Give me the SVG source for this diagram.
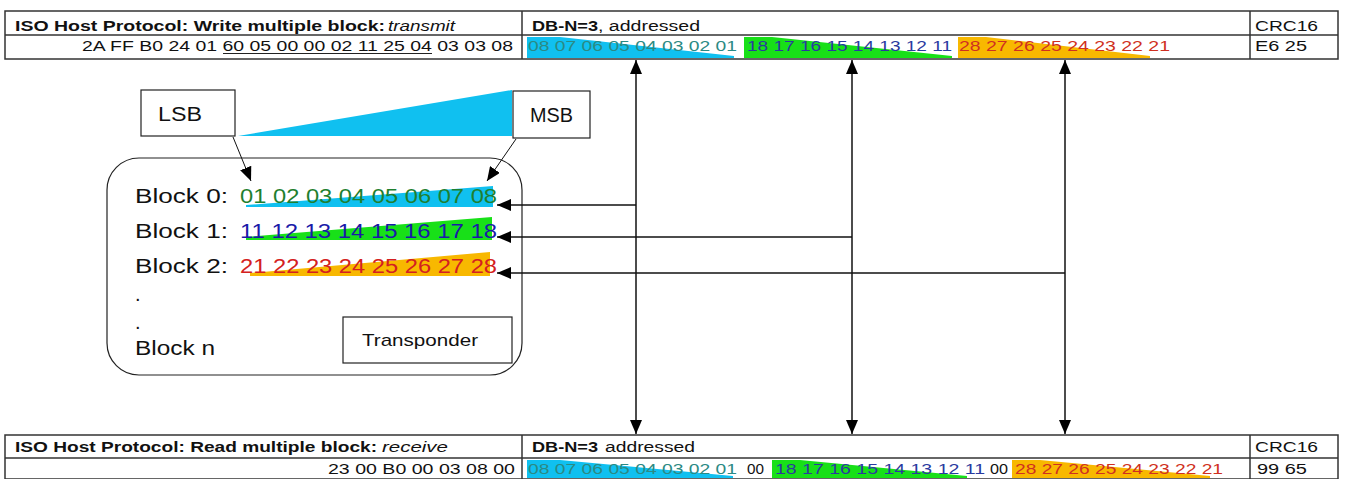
<svg xmlns="http://www.w3.org/2000/svg" width="1348" height="479" viewBox="0 0 1348 479">
<style>
text{font-family:"Liberation Sans",Arial,sans-serif}
.t{font-size:14px;fill:#111}
.b{font-weight:bold}
.i{font-style:italic}
.tab{fill:none;stroke:#333;stroke-width:1.5}
.big{font-size:20px;fill:#111}
.c0{fill:#2b8a84}
.c1{fill:#2a3aa0}
.c2{fill:#d03020}
.n0{fill:#1f7f2f}
.n1{fill:#1a1aa8}
.n2{fill:#d42020}
.cy{fill:#10c0f0}
.gr{fill:#18e018}
.or{fill:#f8b800}
.ln{stroke:#111;stroke-width:1.5;fill:none}
.box{fill:#fff;stroke:#222;stroke-width:1.2}
</style>
<defs>
<marker id="ah" viewBox="0 0 14 12" refX="14" refY="6" markerWidth="14" markerHeight="12" markerUnits="userSpaceOnUse" orient="auto-start-reverse">
<path d="M0,0 L14,6 L0,12 Z" fill="#000"/>
</marker>
</defs>
<rect width="1348" height="479" fill="#fff"/>

<g id="write-table">
<path class="cy" d="M527,37 L560,37 L734,56 L734,58 L527,58 Z"/>
<path class="gr" d="M744,37 L772,37 L952,56 L952,58 L744,58 Z"/>
<path class="or" d="M958,37 L986,37 L1150,56 L1150,58 L958,58 Z"/>
<rect class="tab" x="5" y="11" width="1333" height="48"/>
<line class="tab" x1="5" y1="35" x2="1338" y2="35"/>
<line class="tab" x1="522" y1="11" x2="522" y2="59"/>
<line class="tab" x1="1250" y1="11" x2="1250" y2="59"/>
<text class="t b" x="15" y="31" textLength="370" lengthAdjust="spacingAndGlyphs">ISO Host Protocol: Write multiple block:</text>
<text class="t i" x="388" y="31" textLength="67" lengthAdjust="spacingAndGlyphs">transmit</text>
<text class="t b" x="532" y="31" textLength="66" lengthAdjust="spacingAndGlyphs">DB-N=3</text>
<text class="t" x="598" y="31" textLength="102" lengthAdjust="spacingAndGlyphs">, addressed</text>
<text class="t" x="1255" y="31" textLength="63" lengthAdjust="spacingAndGlyphs">CRC16</text>
<text class="t" x="82" y="51" textLength="431" lengthAdjust="spacingAndGlyphs">2A FF B0 24 01 60 05 00 00 02 11 25 04 03 03 08</text>
<line x1="223" y1="53.5" x2="432" y2="53.5" stroke="#222" stroke-width="1"/>
<text class="t c0" x="528" y="51" textLength="209" lengthAdjust="spacingAndGlyphs">08 07 06 05 04 03 02 01</text>
<text class="t c1" x="747" y="51" textLength="205" lengthAdjust="spacingAndGlyphs">18 17 16 15 14 13 12 11</text>
<text class="t c2" x="959" y="51" textLength="211" lengthAdjust="spacingAndGlyphs">28 27 26 25 24 23 22 21</text>
<text class="t" x="1255" y="51" textLength="52" lengthAdjust="spacingAndGlyphs">E6 25</text>
</g>

<g id="read-table">
<path class="cy" d="M527,460 L560,460 L733,476 L733,478 L527,478 Z"/>
<path class="gr" d="M772,460 L800,460 L967,476 L967,478 L772,478 Z"/>
<path class="or" d="M1012,460 L1040,460 L1210,476 L1210,478 L1012,478 Z"/>
<rect class="tab" x="5" y="435" width="1333" height="44"/>
<line class="tab" x1="5" y1="458" x2="1338" y2="458"/>
<line class="tab" x1="522" y1="435" x2="522" y2="479"/>
<line class="tab" x1="1250" y1="435" x2="1250" y2="479"/>
<text class="t b" x="15" y="452" textLength="362" lengthAdjust="spacingAndGlyphs">ISO Host Protocol: Read multiple block:</text>
<text class="t i" x="382" y="452" textLength="66" lengthAdjust="spacingAndGlyphs">receive</text>
<text class="t b" x="532" y="452" textLength="66" lengthAdjust="spacingAndGlyphs">DB-N=3</text>
<text class="t" x="605" y="452" textLength="90" lengthAdjust="spacingAndGlyphs">addressed</text>
<text class="t" x="1255" y="452" textLength="63" lengthAdjust="spacingAndGlyphs">CRC16</text>
<text class="t" x="328" y="474" textLength="187" lengthAdjust="spacingAndGlyphs">23 00 B0 00 03 08 00</text>
<text class="t c0" x="528" y="474" textLength="209" lengthAdjust="spacingAndGlyphs">08 07 06 05 04 03 02 01</text>
<text class="t" x="747" y="474" textLength="17" lengthAdjust="spacingAndGlyphs">00</text>
<text class="t c1" x="775" y="474" textLength="210" lengthAdjust="spacingAndGlyphs">18 17 16 15 14 13 12 11</text>
<text class="t" x="990" y="474" textLength="18" lengthAdjust="spacingAndGlyphs">00</text>
<text class="t c2" x="1015" y="474" textLength="208" lengthAdjust="spacingAndGlyphs">28 27 26 25 24 23 22 21</text>
<text class="t" x="1257" y="474" textLength="50" lengthAdjust="spacingAndGlyphs">99 65</text>
</g>

<g id="significance">
<path class="cy" d="M238,136 L512,90 L512,136 Z"/>
</g>

<g id="transponder">
<rect class="box" x="107" y="158" width="415" height="217" rx="32" ry="32"/>
<path class="cy" d="M246,207 L246,205 L493,186 L493,207 Z"/>
<path class="gr" d="M246,240 L246,237 L492,217 L492,240 Z"/>
<path class="or" d="M250,276 L250,273 L490,252 L490,276 Z"/>
<text class="big" x="135" y="203" textLength="93" lengthAdjust="spacingAndGlyphs">Block 0:</text>
<text class="big n0" x="240" y="203" textLength="257" lengthAdjust="spacingAndGlyphs">01 02 03 04 05 06 07 08</text>
<text class="big" x="135" y="238" textLength="93" lengthAdjust="spacingAndGlyphs">Block 1:</text>
<text class="big n1" x="240" y="238" textLength="257" lengthAdjust="spacingAndGlyphs">11 12 13 14 15 16 17 18</text>
<text class="big" x="135" y="273" textLength="93" lengthAdjust="spacingAndGlyphs">Block 2:</text>
<text class="big n2" x="240" y="273" textLength="257" lengthAdjust="spacingAndGlyphs">21 22 23 24 25 26 27 28</text>
<text class="big" x="135" y="301">.</text>
<text class="big" x="135" y="329">.</text>
<text class="big" x="135" y="355" textLength="80" lengthAdjust="spacingAndGlyphs">Block n</text>
</g>

<g id="transponder-label">
<rect class="box" x="343" y="317" width="169" height="46"/>
<text class="big" style="font-size:17px" x="362" y="346" textLength="116" lengthAdjust="spacingAndGlyphs">Transponder</text>
</g>

<g id="lsb">
<rect class="box" x="141" y="90" width="94" height="46"/>
<text class="big" x="158" y="121" textLength="44" lengthAdjust="spacingAndGlyphs">LSB</text>
</g>

<g id="msb">
<rect class="box" x="513" y="91" width="77" height="47"/>
<text class="big" x="530" y="122" textLength="43" lengthAdjust="spacingAndGlyphs">MSB</text>
</g>

<g id="connectors">
<line class="ln" style="stroke-width:1" x1="233" y1="137" x2="251" y2="181" marker-end="url(#ah)"/>
<line class="ln" style="stroke-width:1" x1="516" y1="139" x2="487" y2="181" marker-end="url(#ah)"/>
<line class="ln" x1="636" y1="60" x2="636" y2="434" marker-start="url(#ah)" marker-end="url(#ah)"/>
<line class="ln" x1="852" y1="60" x2="852" y2="434" marker-start="url(#ah)" marker-end="url(#ah)"/>
<line class="ln" x1="1065" y1="60" x2="1065" y2="434" marker-start="url(#ah)" marker-end="url(#ah)"/>
<line class="ln" x1="636" y1="205" x2="497" y2="205" marker-end="url(#ah)"/>
<line class="ln" x1="852" y1="237" x2="497" y2="237" marker-end="url(#ah)"/>
<line class="ln" x1="1065" y1="273" x2="497" y2="273" marker-end="url(#ah)"/>
</g>
</svg>
